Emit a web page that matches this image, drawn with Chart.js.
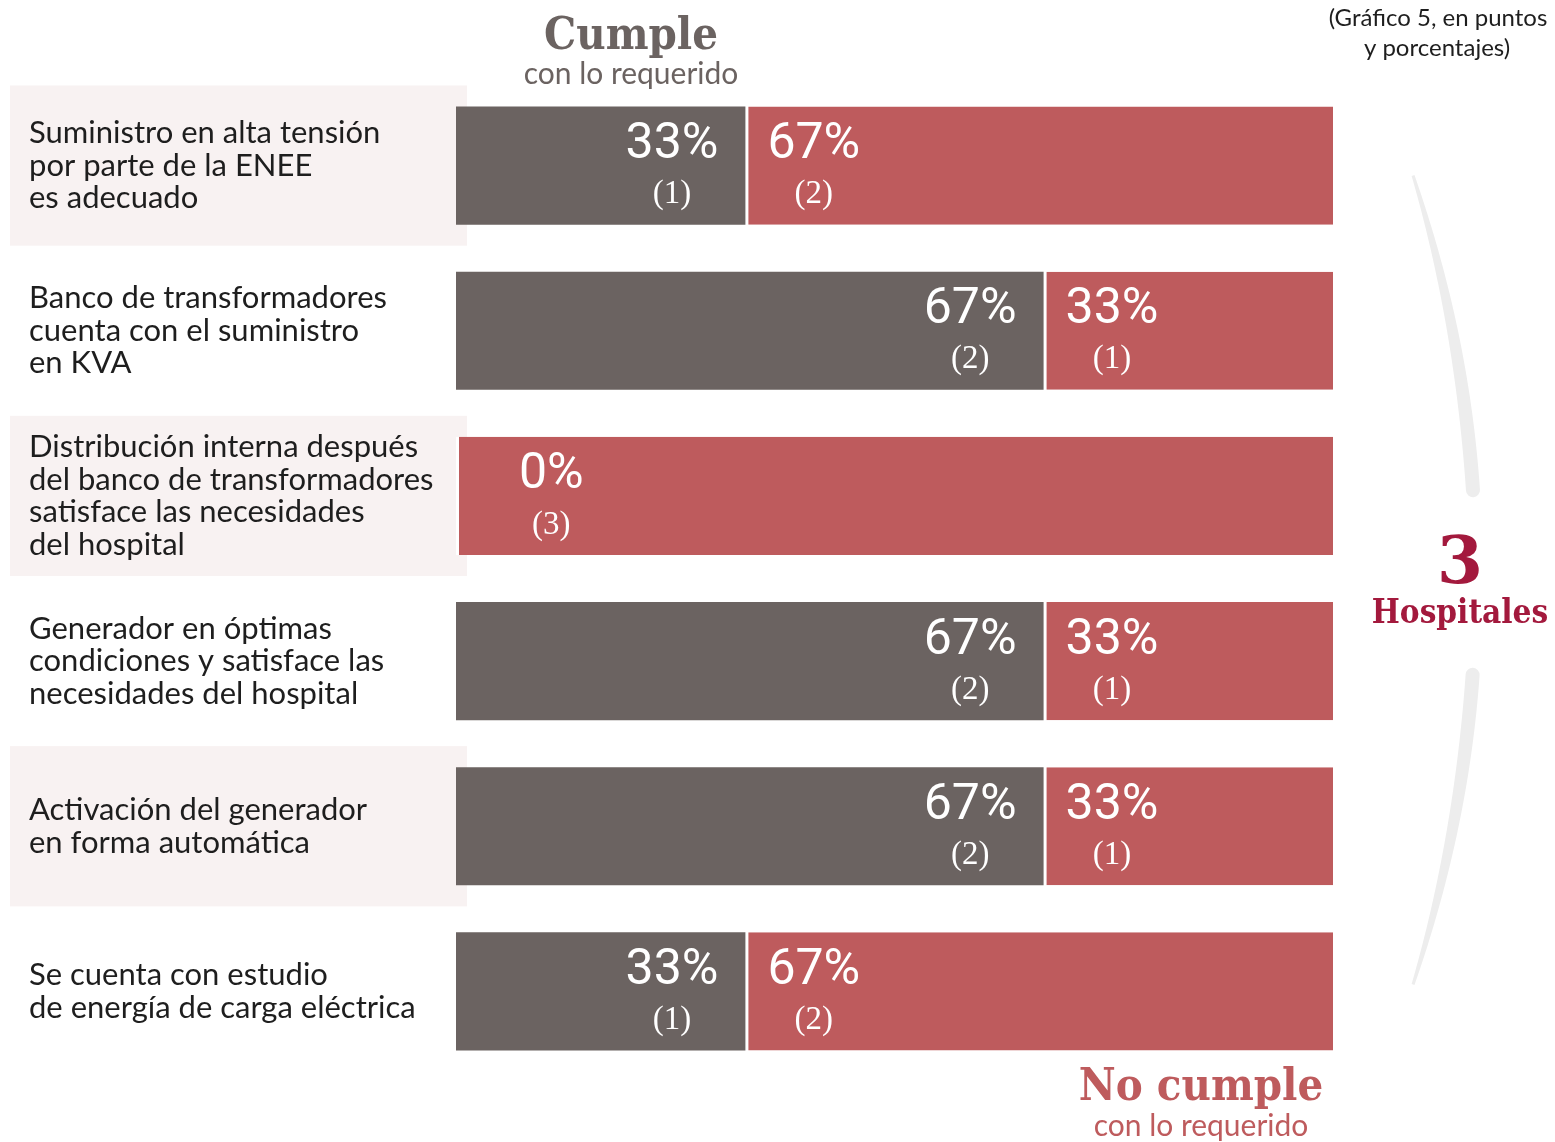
<!DOCTYPE html>
<html lang="es">
<head>
<meta charset="utf-8">
<title>Gráfico 5 – Suministro eléctrico en hospitales</title>
<script src="https://cdn.jsdelivr.net/npm/chart.js@4/dist/chart.umd.min.js"></script>
<style>
  html, body { margin: 0; padding: 0; background: #ffffff; }
  #wrap { position: relative; width: 1555px; height: 1142px; }
</style>
</head>
<body>
<div id="wrap"><canvas id="chart"></canvas></div>
<script>
// Criteria evaluated (one row per bar)
const categories = [
  ["Suministro en alta tensión", "por parte de la ENEE", "es adecuado"],
  ["Banco de transformadores", "cuenta con el suministro", "en KVA"],
  ["Distribución interna después", "del banco de transformadores", "satisface las necesidades", "del hospital"],
  ["Generador en óptimas", "condiciones y satisface las", "necesidades del hospital"],
  ["Activación del generador", "en forma automática"],
  ["Se cuenta con estudio", "de energía de carga eléctrica"]
];
// Percent of hospitals that comply / do not comply
const cumplePct   = [33, 67, 0, 67, 67, 33];
const noCumplePct = [67, 33, 100, 33, 33, 67];
// Number of hospitals behind each percentage
const cumpleCount   = [1, 2, 0, 2, 2, 1];
const noCumpleCount = [2, 1, 3, 1, 1, 2];
const totalHospitales = 3;

const GRAY = '#6b6361';
const RED = '#be5b5d';
const CRIMSON = '#a3193d';
const BAND = '#f8f2f2';

// crescent-shaped stroke along a circle: thin at the outer tip, thick near the gap
function taperedArc(ctx, cx, cy, R, a0, a1, wThin, wThick) {
  const n = 60;
  const outer = [], inner = [];
  for (let k = 0; k <= n; k++) {
    const t = k / n;
    const a = a0 + (a1 - a0) * t;
    const w = wThin + (wThick - wThin) * Math.sin(t * Math.PI / 2);
    outer.push([cx + (R + w / 2) * Math.cos(a), cy + (R + w / 2) * Math.sin(a)]);
    inner.push([cx + (R - w / 2) * Math.cos(a), cy + (R - w / 2) * Math.sin(a)]);
  }
  ctx.beginPath();
  ctx.moveTo(outer[0][0], outer[0][1]);
  outer.forEach(p => ctx.lineTo(p[0], p[1]));
  const endA = a1, ew = wThick / 2;
  ctx.arc(cx + R * Math.cos(endA), cy + R * Math.sin(endA), ew, endA, endA + (a1 > a0 ? Math.PI : -Math.PI), a1 < a0);
  for (let k = inner.length - 1; k >= 0; k--) ctx.lineTo(inner[k][0], inner[k][1]);
  ctx.closePath();
  ctx.fill();
}

const decorPlugin = {
  id: 'decor',
  beforeDatasetsDraw(chart) {
    const ctx = chart.ctx;
    const y = chart.scales.y;
    const band = (y.getPixelForValue(1) - y.getPixelForValue(0));
    ctx.save();
    // alternating light bands behind the category text
    categories.forEach((lines, i) => {
      if (i % 2 !== 0) return;
      const cy = y.getPixelForValue(i);
      ctx.fillStyle = BAND;
      ctx.fillRect(10, cy - band * 0.485, 457, band * 0.97);
    });
    // category labels
    ctx.fillStyle = '#1e1e1e';
    ctx.font = '31px Lato, "Open Sans", sans-serif';
    ctx.textAlign = 'left';
    ctx.textBaseline = 'middle';
    const lh = 32.5;
    categories.forEach((lines, i) => {
      const cy = y.getPixelForValue(i);
      const top = cy - (lines.length - 1) * lh / 2;
      lines.forEach((t, k) => ctx.fillText(t, 29, top + k * lh));
    });

    // headings
    ctx.textAlign = 'center';
    ctx.fillStyle = GRAY;
    ctx.font = 'bold 45px "DejaVu Serif Condensed", "DejaVu Serif", serif';
    ctx.fillText('Cumple', 631, 37);
    ctx.font = '30px Lato, sans-serif';
    ctx.fillText('con lo requerido', 631, 74);

    ctx.fillStyle = RED;
    ctx.font = 'bold 45px "DejaVu Serif Condensed", "DejaVu Serif", serif';
    ctx.fillText('No cumple', 1201, 1088);
    ctx.font = '30px Lato, sans-serif';
    ctx.fillText('con lo requerido', 1201, 1126);

    ctx.fillStyle = '#1e1e1e';
    ctx.font = '24px Lato, sans-serif';
    ctx.fillText('(Gráfico 5, en puntos', 1438, 18);
    ctx.fillText('y porcentajes)', 1437, 48);

    // bracket grouping the hospitals
    ctx.fillStyle = '#ededed';
    const cx = 145, cyA = 580, R = 1331;
    taperedArc(ctx, cx, cyA, R, -0.3088, -0.0675, 3, 14);
    taperedArc(ctx, cx, cyA, R, 0.3088, 0.0713, 3, 14);

    ctx.fillStyle = CRIMSON;
    ctx.font = 'bold 66px "DejaVu Serif", serif';
    ctx.fillText(String(totalHospitales), 1460, 566);
    ctx.font = 'bold 33px "DejaVu Serif Condensed", "DejaVu Serif", serif';
    ctx.fillText('Hospitales', 1460, 614);
    ctx.restore();
  },
  afterDatasetsDraw(chart) {
    const ctx = chart.ctx;
    const m0 = chart.getDatasetMeta(0);
    const m1 = chart.getDatasetMeta(1);
    ctx.save();
    ctx.fillStyle = '#ffffff';
    ctx.textBaseline = 'middle';
    const pctFont = '50px Roboto, "Liberation Sans", sans-serif';
    const cntFont = '33px "Liberation Serif", serif';
    categories.forEach((_, i) => {
      const g = m0.data[i];
      const r = m1.data[i];
      const cy = g.y;
      if (cumplePct[i] > 0) {
        // compliant share: right-aligned inside the gray segment
        ctx.font = pctFont;
        const txt = cumplePct[i] + '%';
        const w = ctx.measureText(txt).width;
        const right = g.x - 27;
        ctx.textAlign = 'right';
        ctx.fillText(txt, right, cy - 20);
        ctx.font = cntFont;
        ctx.textAlign = 'center';
        ctx.fillText('(' + cumpleCount[i] + ')', right - w / 2, cy + 29);

        // non-compliant share: left-aligned inside the red segment
        ctx.font = pctFont;
        const t2 = noCumplePct[i] + '%';
        const w2 = ctx.measureText(t2).width;
        const left = r.base + 22;
        ctx.textAlign = 'left';
        ctx.fillText(t2, left, cy - 20);
        ctx.font = cntFont;
        ctx.textAlign = 'center';
        ctx.fillText('(' + noCumpleCount[i] + ')', left + w2 / 2, cy + 29);
      } else {
        // nobody complies: show the 0% and the hospital count at the bar start
        ctx.font = pctFont;
        const txt = cumplePct[i] + '%';
        const w = ctx.measureText(txt).width;
        const left = g.base + 63;
        ctx.textAlign = 'left';
        ctx.fillText(txt, left, cy - 20);
        ctx.font = cntFont;
        ctx.textAlign = 'center';
        ctx.fillText('(' + noCumpleCount[i] + ')', left + w / 2, cy + 29);
      }
    });
    ctx.restore();
  }
};

new Chart(document.getElementById('chart'), {
  type: 'bar',
  data: {
    labels: categories.map(l => l.join(' ')),
    datasets: [
      {
        label: 'Cumple con lo requerido',
        data: cumplePct,
        backgroundColor: GRAY,
        borderWidth: 0
      },
      {
        label: 'No cumple con lo requerido',
        data: noCumplePct,
        backgroundColor: RED,
        borderColor: '#ffffff',
        borderWidth: { left: 3, right: 0, top: 0, bottom: 0 },
        borderSkipped: false
      }
    ]
  },
  options: {
    indexAxis: 'y',
    responsive: true,
    maintainAspectRatio: false,
    animation: false,
    layout: { padding: { left: 456, right: 222, top: 83, bottom: 68 } },
    datasets: { bar: { categoryPercentage: 1, barPercentage: 0.715 } },
    scales: {
      x: { stacked: true, min: 0, max: 100, display: false },
      y: { stacked: true, display: false }
    },
    plugins: { legend: { display: false }, tooltip: { enabled: false } }
  },
  plugins: [decorPlugin]
});
</script>
</body>
</html>
